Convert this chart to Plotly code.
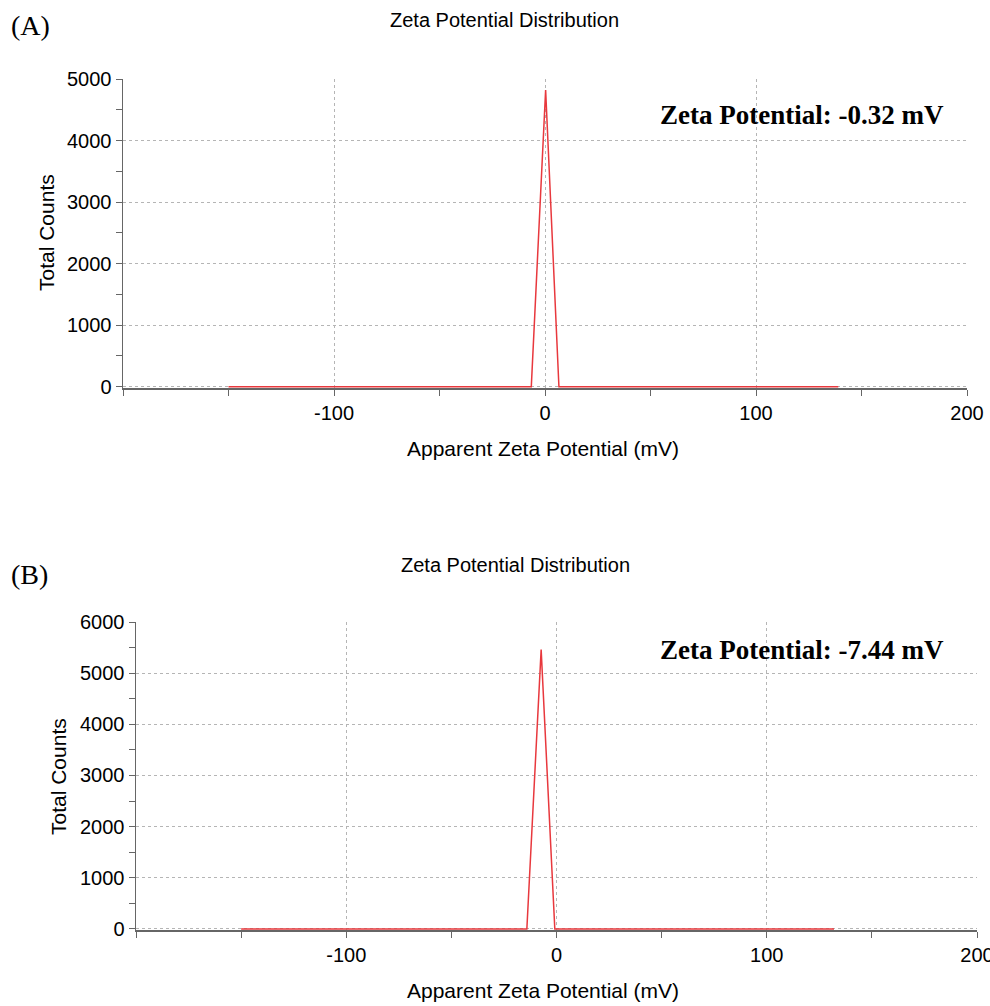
import plotly.graph_objects as go

# Panel A data
xA = [-150, -6.5, 0.3, 6.6, 139]
yA = [0, 0, 4820, 0, 0]
# Panel B data
xB = [-150, -14.1, -7.3, -0.8, 132]
yB = [0, 0, 5460, 0, 0]

x_tickvals = [-200, -100, 0, 100, 200]
x_ticktext = ["", "-100", "0", "100", "200"]

title_text = "Zeta Potential Distribution"
x_title = "Apparent Zeta Potential (mV)"
y_title = "Total Counts"
zetaA = "Zeta Potential: -0.32 mV"
zetaB = "Zeta Potential: -7.44 mV"

W, H = 990, 1006
SANS = "Liberation Sans, Arial, sans-serif"
SERIF = "Liberation Serif, Times New Roman, serif"
RED = "#e8383d"
AX = "#666666"

fig = go.Figure()
fig.add_trace(go.Scatter(x=xA, y=yA, mode="lines", line=dict(color=RED, width=1.5),
                         xaxis="x", yaxis="y", showlegend=False))
fig.add_trace(go.Scatter(x=xB, y=yB, mode="lines", line=dict(color=RED, width=1.5),
                         xaxis="x2", yaxis="y2", showlegend=False))

def px(v):
    return v / W

def py(v):
    return 1 - v / H

common_x = dict(range=[-200, 200], tickmode="array", tickvals=x_tickvals, ticktext=x_ticktext,
                showgrid=True, gridcolor="#b5b5b5",
                griddash="dot", gridwidth=1, zeroline=False, showline=True, linecolor=AX,
                linewidth=1.5, ticks="outside", ticklen=6, tickcolor=AX, tickwidth=1,
                minor=dict(tickmode="linear", dtick=50, tick0=0, ticks="outside", ticklen=6,
                           tickcolor=AX, showgrid=False),
                tickfont=dict(family=SANS, size=20, color="black"), layer="below traces",
                ticklabeloverflow="allow",
                automargin=False, fixedrange=True)
common_y = dict(showgrid=True, gridcolor="#b5b5b5", griddash="dot", gridwidth=1,
                zeroline=False, showline=True, linecolor=AX, linewidth=1.5,
                ticks="outside", ticklen=6, tickcolor=AX, tickwidth=1, dtick=1000, tick0=0,
                minor=dict(dtick=500, ticks="outside", ticklen=6, tickcolor=AX, showgrid=False),
                tickfont=dict(family=SANS, size=20, color="black"), layer="below traces",
                automargin=False, fixedrange=True)

fig.update_layout(
    width=W, height=H, margin=dict(l=0, r=0, t=0, b=0, autoexpand=False),
    paper_bgcolor="white", plot_bgcolor="white", hovermode=False,
    xaxis=dict(domain=[px(123), px(967)], anchor="y", **common_x),
    yaxis=dict(domain=[py(388), py(79)], anchor="x", range=[-20, 5000], **common_y),
    xaxis2=dict(domain=[px(136), px(977)], anchor="y2", **common_x),
    yaxis2=dict(domain=[py(930), py(622)], anchor="x2", range=[-20, 6000], **common_y),
)

annos = [
    dict(text=title_text, x=px(505), y=py(20), font=dict(family=SANS, size=20)),
    dict(text=title_text, x=px(515), y=py(565), font=dict(family=SANS, size=20)),
    dict(text=x_title, x=px(543), y=py(448), font=dict(family=SANS, size=21)),
    dict(text=x_title, x=px(543), y=py(990), font=dict(family=SANS, size=21)),
    dict(text=y_title, x=px(46), y=py(233), textangle=-90, font=dict(family=SANS, size=21)),
    dict(text=y_title, x=px(58), y=py(777), textangle=-90, font=dict(family=SANS, size=21)),
    dict(text="<b>" + zetaA + "</b>", x=px(946), y=py(115), xanchor="right",
         font=dict(family=SERIF, size=27)),
    dict(text="<b>" + zetaB + "</b>", x=px(946), y=py(650), xanchor="right",
         font=dict(family=SERIF, size=27)),
    dict(text="(A)", x=px(9), y=py(25), xanchor="left", font=dict(family=SERIF, size=28)),
    dict(text="(B)", x=px(9), y=py(574), xanchor="left", font=dict(family=SERIF, size=28)),
]
for a in annos:
    a.setdefault("xanchor", "center")
    a["font"]["color"] = "black"
    fig.add_annotation(xref="paper", yref="paper", yanchor="middle", showarrow=False, **a)

fig.write_html("out.html", config={"displayModeBar": False, "staticPlot": True},
               post_script="document.body.style.margin='0';document.body.style.overflow='hidden';")
